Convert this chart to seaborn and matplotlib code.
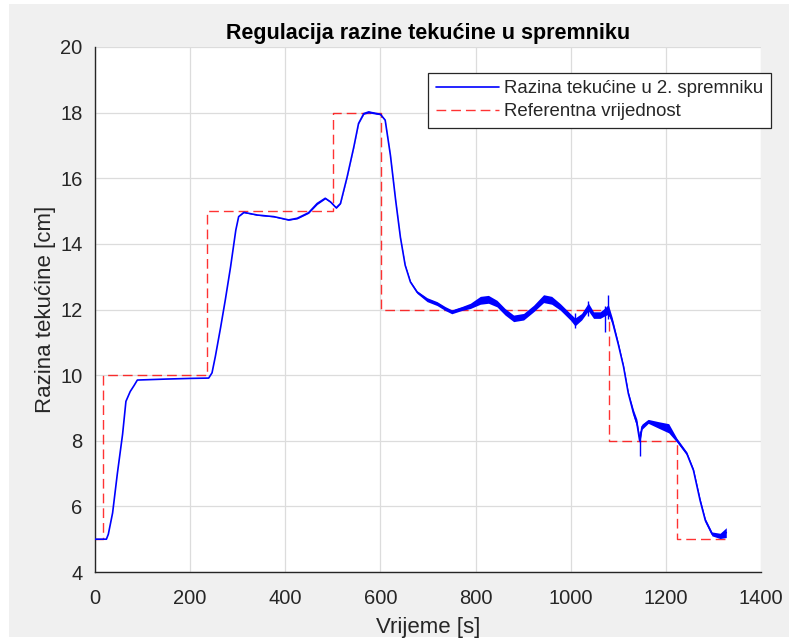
import matplotlib
matplotlib.use("Agg")
import matplotlib.pyplot as plt
from matplotlib.patches import Rectangle
import numpy as np
import pandas as pd
import seaborn as sns

# Measured liquid level in tank 2 [cm] versus time [s]
time_s = [0, 24, 28, 37, 47, 58, 65, 74, 82, 89,
          150, 200, 239, 246, 253, 264, 274, 285, 296, 302,
          313, 341, 376, 407, 425, 449, 467, 484, 495, 507,
          516, 530, 544, 554, 565, 575, 600, 610, 621, 632,
          642, 652, 663, 677, 698, 719, 736, 750, 771, 789,
          810, 827, 845, 862, 880, 901, 922, 943, 960, 978,
          999, 1009, 1023, 1037, 1048, 1062, 1072, 1079, 1087, 1100,
          1111, 1121, 1132, 1139, 1145, 1150, 1163, 1185, 1206, 1223,
          1244, 1258, 1272, 1283, 1297, 1314, 1327]
level_cm = [5.0, 5.0, 5.15, 5.8, 7.0, 8.2, 9.2, 9.5, 9.68, 9.85,
            9.88, 9.9, 9.91, 10.07, 10.57, 11.45, 12.3, 13.3, 14.42, 14.83,
            14.96, 14.88, 14.83, 14.73, 14.78, 14.95, 15.23, 15.39, 15.28, 15.1,
            15.23, 16.04, 16.95, 17.67, 17.97, 18.02, 17.95, 17.77, 16.7, 15.33,
            14.2, 13.35, 12.84, 12.53, 12.3, 12.18, 12.03, 11.93, 12.03, 12.11,
            12.28, 12.31, 12.18, 11.93, 11.73, 11.78, 12.03, 12.33, 12.28, 12.08,
            11.78, 11.62, 11.78, 12.08, 11.83, 11.83, 11.93, 12.0, 11.67, 10.94,
            10.26, 9.45, 8.84, 8.54, 8.0, 8.43, 8.59, 8.48, 8.38, 8.02,
            7.61, 7.1, 6.18, 5.57, 5.16, 5.1, 5.2]
# half-width of the fast oscillation band around the measured level [cm]
level_spread = [0, 0, 0, 0, 0, 0, 0, 0, 0, 0,
                0, 0, 0, 0, 0, 0, 0, 0, 0, 0,
                0.01, 0.01, 0.01, 0.01, 0.02, 0.02, 0.03, 0.02, 0.02, 0.02,
                0.01, 0.01, 0.01, 0.01, 0.02, 0.03, 0.02, 0.01, 0.01, 0.01,
                0.01, 0.02, 0.03, 0.04, 0.06, 0.06, 0.06, 0.06, 0.06, 0.08,
                0.12, 0.12, 0.10, 0.10, 0.10, 0.10, 0.10, 0.12, 0.12, 0.10,
                0.10, 0.12, 0.10, 0.12, 0.10, 0.10, 0.12, 0.15, 0.10, 0.06,
                0.04, 0.05, 0.10, 0.12, 0.10, 0.08, 0.06, 0.10, 0.14, 0.06,
                0.05, 0.05, 0.06, 0.06, 0.06, 0.08, 0.15]

# short sensor spikes: time, lowest and highest reading
spike_t = [1010, 1037, 1072, 1079, 1145]
spike_lo = [11.45, 11.80, 11.30, 11.70, 7.55]
spike_hi = [11.90, 12.25, 12.10, 12.45, 8.30]

# Reference (setpoint) steps
ref_t = [0, 16, 236, 500, 602, 1080, 1224, 1328]
ref_cm = [5, 10, 15, 18, 12, 8, 5, 5]

x_ticks = [0, 200, 400, 600, 800, 1000, 1200, 1400]
y_ticks = [4, 6, 8, 10, 12, 14, 16, 18, 20]

measured = pd.DataFrame({"t": time_s, "h": level_cm, "d": level_spread})
reference = pd.DataFrame({"t": ref_t, "h": ref_cm})

sns.set_style("white")
plt.rcParams["font.family"] = ["Liberation Sans", "DejaVu Sans"]

W, H = 789, 641
fig = plt.figure(figsize=(W / 100, H / 100), dpi=100, facecolor="white")
fig.patches.append(Rectangle((9 / W, 4 / H), 780 / W, 633 / H,
                             transform=fig.transFigure, facecolor="#f0f0f0",
                             edgecolor="none", zorder=-10))

ax = fig.add_axes([95 / W, 1 - 572 / H, 666 / W, 525 / H])
ax.set_facecolor("white")

sns.lineplot(data=measured, x="t", y="h", ax=ax, color="#0000ff", lw=1.2,
             estimator=None, sort=False, label="Razina teku\u0107ine u 2. spremniku",
             zorder=3)
ax.fill_between(measured["t"], measured["h"] - measured["d"],
                measured["h"] + measured["d"], color="#0000ff", lw=0, zorder=3)
ax.vlines(spike_t, spike_lo, spike_hi, color="#0000ff", lw=1.0, zorder=3)

sns.lineplot(data=reference, x="t", y="h", ax=ax, color="#ff0000", lw=1.0,
             estimator=None, sort=False, drawstyle="steps-post",
             label="Referentna vrijednost", zorder=2, alpha=0.8)
ax.lines[-1].set_dashes((7, 3.6))

ax.set_xlim(0, 1400)
ax.set_ylim(4, 20)
ax.set_xticks(x_ticks)
ax.set_yticks(y_ticks)
ax.grid(True, color="#dcdcdc", lw=0.9)
ax.set_axisbelow(True)
for side in ("top", "right"):
    ax.spines[side].set_visible(False)
for side in ("left", "bottom"):
    ax.spines[side].set_color("#262626")
    ax.spines[side].set_linewidth(1.0)
ax.tick_params(direction="in", length=5, width=0.8, color="#262626",
               labelcolor="#262626", labelsize=14.5)
ax.tick_params(axis="x", pad=12)
ax.tick_params(axis="y", pad=9)

ax.set_title("Regulacija razine teku\u0107ine u spremniku", fontsize=15.5,
             fontweight="bold", color="black", pad=6)
ax.set_xlabel("Vrijeme [s]", fontsize=16, color="#262626", labelpad=7)
ax.set_ylabel("Razina teku\u0107ine [cm]", fontsize=16, color="#262626", labelpad=3)

handles, labels = ax.get_legend_handles_labels()
leg = ax.legend(handles, labels, loc="upper right",
                bbox_to_anchor=(771 / W, 1 - 73 / H), bbox_transform=fig.transFigure,
                borderaxespad=0, fontsize=13.4, frameon=True, fancybox=False,
                borderpad=0.4, labelspacing=0.3, handlelength=3.4,
                handletextpad=0.3, framealpha=1)
leg.get_frame().set_edgecolor("#262626")
leg.get_frame().set_linewidth(0.9)
for t in leg.get_texts():
    t.set_color("#262626")

fig.savefig("out.png", dpi=100, facecolor=fig.get_facecolor())
